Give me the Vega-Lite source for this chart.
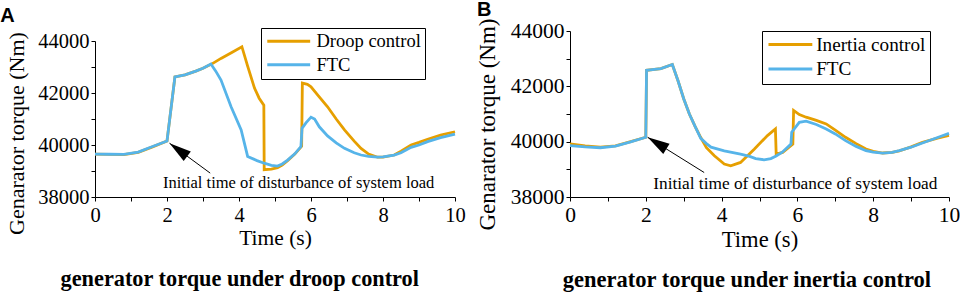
{
  "$schema": "https://vega.github.io/schema/vega-lite/v6.json",
  "padding": 0,
  "background": "white",
  "config": {
    "view": {"stroke": null},
    "font": "Liberation Serif",
    "axis": {"domainColor": "black", "tickColor": "black", "labelColor": "black", "titleColor": "black", "grid": false, "labelFont": "Liberation Serif", "titleFont": "Liberation Serif", "titleFontWeight": "normal", "tickSize": 4, "labelOverlap": false, "labelFlush": false},
    "legend": {"labelColor": "black", "labelFont": "Liberation Serif"}
  },
  "datasets": {
    "a": [
      {"s": "Droop control", "t": 0, "v": 39650}, {"s": "Droop control", "t": 0.4, "v": 39640}, {"s": "Droop control", "t": 0.8, "v": 39630}, {"s": "Droop control", "t": 1.2, "v": 39720}, {"s": "Droop control", "t": 1.6, "v": 39930}, {"s": "Droop control", "t": 2.0, "v": 40150}, {"s": "Droop control", "t": 2.22, "v": 42620}, {"s": "Droop control", "t": 2.5, "v": 42700}, {"s": "Droop control", "t": 2.8, "v": 42840}, {"s": "Droop control", "t": 3.0, "v": 42950}, {"s": "Droop control", "t": 3.25, "v": 43120}, {"s": "Droop control", "t": 3.5, "v": 43330}, {"s": "Droop control", "t": 3.8, "v": 43560}, {"s": "Droop control", "t": 4.08, "v": 43780}, {"s": "Droop control", "t": 4.24, "v": 43030}, {"s": "Droop control", "t": 4.43, "v": 42190}, {"s": "Droop control", "t": 4.56, "v": 41800}, {"s": "Droop control", "t": 4.69, "v": 41530}, {"s": "Droop control", "t": 4.7, "v": 39050}, {"s": "Droop control", "t": 4.9, "v": 39070}, {"s": "Droop control", "t": 5.07, "v": 39130}, {"s": "Droop control", "t": 5.2, "v": 39230}, {"s": "Droop control", "t": 5.35, "v": 39400}, {"s": "Droop control", "t": 5.55, "v": 39650}, {"s": "Droop control", "t": 5.74, "v": 39950}, {"s": "Droop control", "t": 5.76, "v": 42380}, {"s": "Droop control", "t": 5.9, "v": 42330}, {"s": "Droop control", "t": 6.0, "v": 42240}, {"s": "Droop control", "t": 6.2, "v": 41900}, {"s": "Droop control", "t": 6.46, "v": 41470}, {"s": "Droop control", "t": 6.7, "v": 41000}, {"s": "Droop control", "t": 6.93, "v": 40580}, {"s": "Droop control", "t": 7.2, "v": 40150}, {"s": "Droop control", "t": 7.39, "v": 39870}, {"s": "Droop control", "t": 7.6, "v": 39650}, {"s": "Droop control", "t": 7.85, "v": 39530}, {"s": "Droop control", "t": 8.0, "v": 39530}, {"s": "Droop control", "t": 8.31, "v": 39615}, {"s": "Droop control", "t": 8.5, "v": 39760}, {"s": "Droop control", "t": 8.78, "v": 40000}, {"s": "Droop control", "t": 9.0, "v": 40100}, {"s": "Droop control", "t": 9.24, "v": 40220}, {"s": "Droop control", "t": 9.6, "v": 40380}, {"s": "Droop control", "t": 10, "v": 40510},
      {"s": "FTC", "t": 0, "v": 39650}, {"s": "FTC", "t": 0.4, "v": 39645}, {"s": "FTC", "t": 0.8, "v": 39640}, {"s": "FTC", "t": 1.2, "v": 39730}, {"s": "FTC", "t": 1.6, "v": 39940}, {"s": "FTC", "t": 2.0, "v": 40150}, {"s": "FTC", "t": 2.22, "v": 42620}, {"s": "FTC", "t": 2.5, "v": 42700}, {"s": "FTC", "t": 2.8, "v": 42840}, {"s": "FTC", "t": 3.0, "v": 42950}, {"s": "FTC", "t": 3.22, "v": 43115}, {"s": "FTC", "t": 3.35, "v": 42850}, {"s": "FTC", "t": 3.5, "v": 42500}, {"s": "FTC", "t": 3.78, "v": 41470}, {"s": "FTC", "t": 4.06, "v": 40580}, {"s": "FTC", "t": 4.24, "v": 39560}, {"s": "FTC", "t": 4.5, "v": 39400}, {"s": "FTC", "t": 4.7, "v": 39300}, {"s": "FTC", "t": 4.9, "v": 39220}, {"s": "FTC", "t": 5.07, "v": 39190}, {"s": "FTC", "t": 5.2, "v": 39270}, {"s": "FTC", "t": 5.35, "v": 39420}, {"s": "FTC", "t": 5.55, "v": 39660}, {"s": "FTC", "t": 5.72, "v": 39940}, {"s": "FTC", "t": 5.75, "v": 40640}, {"s": "FTC", "t": 5.86, "v": 40850}, {"s": "FTC", "t": 6.0, "v": 41070}, {"s": "FTC", "t": 6.1, "v": 41000}, {"s": "FTC", "t": 6.23, "v": 40700}, {"s": "FTC", "t": 6.46, "v": 40350}, {"s": "FTC", "t": 6.7, "v": 40080}, {"s": "FTC", "t": 6.93, "v": 39870}, {"s": "FTC", "t": 7.2, "v": 39700}, {"s": "FTC", "t": 7.39, "v": 39615}, {"s": "FTC", "t": 7.6, "v": 39560}, {"s": "FTC", "t": 7.85, "v": 39530}, {"s": "FTC", "t": 8.0, "v": 39540}, {"s": "FTC", "t": 8.31, "v": 39610}, {"s": "FTC", "t": 8.5, "v": 39700}, {"s": "FTC", "t": 8.78, "v": 39910}, {"s": "FTC", "t": 9.0, "v": 40000}, {"s": "FTC", "t": 9.24, "v": 40130}, {"s": "FTC", "t": 9.6, "v": 40280}, {"s": "FTC", "t": 10, "v": 40420}
    ],
    "b": [
      {"s": "Inertia control", "t": 0, "v": 39920}, {"s": "Inertia control", "t": 0.4, "v": 39850}, {"s": "Inertia control", "t": 0.8, "v": 39800}, {"s": "Inertia control", "t": 1.2, "v": 39850}, {"s": "Inertia control", "t": 1.6, "v": 40000}, {"s": "Inertia control", "t": 2.0, "v": 40160}, {"s": "Inertia control", "t": 2.02, "v": 42580}, {"s": "Inertia control", "t": 2.4, "v": 42640}, {"s": "Inertia control", "t": 2.7, "v": 42790}, {"s": "Inertia control", "t": 2.85, "v": 42200}, {"s": "Inertia control", "t": 3.0, "v": 41550}, {"s": "Inertia control", "t": 3.15, "v": 41000}, {"s": "Inertia control", "t": 3.3, "v": 40550}, {"s": "Inertia control", "t": 3.45, "v": 40150}, {"s": "Inertia control", "t": 3.6, "v": 39780}, {"s": "Inertia control", "t": 3.81, "v": 39490}, {"s": "Inertia control", "t": 4.07, "v": 39190}, {"s": "Inertia control", "t": 4.24, "v": 39130}, {"s": "Inertia control", "t": 4.5, "v": 39250}, {"s": "Inertia control", "t": 4.86, "v": 39730}, {"s": "Inertia control", "t": 5.21, "v": 40220}, {"s": "Inertia control", "t": 5.42, "v": 40460}, {"s": "Inertia control", "t": 5.44, "v": 39550}, {"s": "Inertia control", "t": 5.61, "v": 39610}, {"s": "Inertia control", "t": 5.88, "v": 39915}, {"s": "Inertia control", "t": 5.9, "v": 41130}, {"s": "Inertia control", "t": 6.05, "v": 40980}, {"s": "Inertia control", "t": 6.23, "v": 40885}, {"s": "Inertia control", "t": 6.5, "v": 40770}, {"s": "Inertia control", "t": 6.76, "v": 40640}, {"s": "Inertia control", "t": 7.0, "v": 40420}, {"s": "Inertia control", "t": 7.27, "v": 40157}, {"s": "Inertia control", "t": 7.55, "v": 39930}, {"s": "Inertia control", "t": 7.81, "v": 39733}, {"s": "Inertia control", "t": 8.0, "v": 39650}, {"s": "Inertia control", "t": 8.25, "v": 39590}, {"s": "Inertia control", "t": 8.5, "v": 39610}, {"s": "Inertia control", "t": 8.69, "v": 39670}, {"s": "Inertia control", "t": 9.0, "v": 39810}, {"s": "Inertia control", "t": 9.3, "v": 39976}, {"s": "Inertia control", "t": 9.7, "v": 40130}, {"s": "Inertia control", "t": 10, "v": 40230},
      {"s": "FTC", "t": 0, "v": 39860}, {"s": "FTC", "t": 0.4, "v": 39810}, {"s": "FTC", "t": 0.8, "v": 39780}, {"s": "FTC", "t": 1.2, "v": 39840}, {"s": "FTC", "t": 1.6, "v": 39990}, {"s": "FTC", "t": 2.0, "v": 40160}, {"s": "FTC", "t": 2.02, "v": 42580}, {"s": "FTC", "t": 2.4, "v": 42640}, {"s": "FTC", "t": 2.7, "v": 42790}, {"s": "FTC", "t": 2.85, "v": 42200}, {"s": "FTC", "t": 3.0, "v": 41550}, {"s": "FTC", "t": 3.15, "v": 41000}, {"s": "FTC", "t": 3.3, "v": 40550}, {"s": "FTC", "t": 3.45, "v": 40120}, {"s": "FTC", "t": 3.6, "v": 39930}, {"s": "FTC", "t": 3.72, "v": 39800}, {"s": "FTC", "t": 4.07, "v": 39670}, {"s": "FTC", "t": 4.5, "v": 39550}, {"s": "FTC", "t": 4.74, "v": 39470}, {"s": "FTC", "t": 4.9, "v": 39390}, {"s": "FTC", "t": 5.12, "v": 39345}, {"s": "FTC", "t": 5.3, "v": 39390}, {"s": "FTC", "t": 5.44, "v": 39480}, {"s": "FTC", "t": 5.6, "v": 39620}, {"s": "FTC", "t": 5.83, "v": 39915}, {"s": "FTC", "t": 5.85, "v": 40340}, {"s": "FTC", "t": 6.05, "v": 40700}, {"s": "FTC", "t": 6.23, "v": 40740}, {"s": "FTC", "t": 6.5, "v": 40620}, {"s": "FTC", "t": 6.76, "v": 40460}, {"s": "FTC", "t": 7.0, "v": 40280}, {"s": "FTC", "t": 7.27, "v": 40036}, {"s": "FTC", "t": 7.55, "v": 39830}, {"s": "FTC", "t": 7.81, "v": 39673}, {"s": "FTC", "t": 8.0, "v": 39620}, {"s": "FTC", "t": 8.25, "v": 39588}, {"s": "FTC", "t": 8.5, "v": 39610}, {"s": "FTC", "t": 8.69, "v": 39673}, {"s": "FTC", "t": 9.0, "v": 39800}, {"s": "FTC", "t": 9.3, "v": 39951}, {"s": "FTC", "t": 9.7, "v": 40150}, {"s": "FTC", "t": 10, "v": 40300}
    ],
    "arrowA": [{"t": 2.07, "v": 40069, "t2": 3.2, "v2": 38919}],
    "arrowB": [{"t": 2.05, "v": 40157, "t2": 3.54, "v2": 38885}],
    "noteA": [{"t": 1.89, "v": 38358, "label": "Initial time of disturbance of system load"}],
    "noteB": [{"t": 2.197, "v": 38279, "label": "Initial time of disturbance of system load"}]
  },
  "resolve": {"scale": {"color": "independent"}, "legend": {"color": "independent"}},
  "spacing": 10,
  "hconcat": [
    {
      "title": {"text": "generator torque under droop control", "orient": "bottom", "anchor": "middle", "font": "Liberation Serif", "fontSize": 22.3, "fontWeight": "bold", "color": "black", "offset": 19, "dx": 7},
      "vconcat": [
        {
          "title": {"text": "A", "anchor": "start", "frame": "bounds", "font": "Liberation Sans", "fontSize": 20, "fontWeight": "bold", "color": "black", "dx": -5, "offset": 5.5},
          "width": 360,
          "height": 166,
          "encoding": {
            "x": {"field": "t", "type": "quantitative", "scale": {"domain": [0, 10], "nice": false}, "axis": {"title": "Time (s)", "values": [0, 1, 2, 3, 4, 5, 6, 7, 8, 9, 10], "labelExpr": "datum.value % 2 === 0 ? datum.label : ''", "labelFont": "Liberation Serif", "titleFont": "Liberation Serif", "labelFontSize": 20.5, "titleFontSize": 21.5, "labelPadding": 4, "titlePadding": 2}},
            "y": {"field": "v", "type": "quantitative", "scale": {"domain": [38000, 44000], "range": [166, 10], "nice": false, "zero": false}, "axis": {"title": "Genarator torque (Nm)", "values": [38000, 39000, 40000, 41000, 42000, 43000, 44000], "format": "d", "labelExpr": "datum.value % 2000 === 0 ? datum.label : ''", "labelFont": "Liberation Serif", "titleFont": "Liberation Serif", "labelFontSize": 20.5, "titleFontSize": 22, "labelPadding": 2, "titlePadding": 9.5, "titleY": 102}}
          },
          "layer": [
            {"data": {"name": "a"}, "transform": [{"filter": "datum.s === 'Droop control'"}], "mark": {"type": "line", "strokeWidth": 2.8},
             "encoding": {"color": {"field": "s", "type": "nominal", "scale": {"domain": ["Droop control", "FTC"], "range": ["#E69F00", "#56B4E9"]}, "legend": {"orient": "none", "legendX": 166, "legendY": -3, "title": null, "symbolType": "M-1.3,0L6.7,0", "symbolSize": 115, "symbolStrokeWidth": 3, "labelFontSize": 18.5, "strokeColor": "black", "fillColor": "white", "padding": 4, "rowPadding": 4.5, "labelOffset": 33}}}},
            {"data": {"name": "a"}, "transform": [{"filter": "datum.s === 'FTC'"}], "mark": {"type": "line", "strokeWidth": 2.8},
             "encoding": {"color": {"field": "s", "type": "nominal"}}},
            {"data": {"name": "arrowA"}, "mark": {"type": "rule", "color": "black", "strokeWidth": 1}, "encoding": {"x2": {"field": "t2"}, "y2": {"field": "v2"}}},
            {"data": {"name": "arrowA"}, "mark": {"type": "point", "shape": "M0,0L1.2,4.4L-1.2,4.4Z", "filled": true, "color": "black", "opacity": 1, "size": 100, "angle": -53.6}, "encoding": {}},
            {"data": {"name": "noteA"}, "mark": {"type": "text", "align": "left", "baseline": "alphabetic", "font": "Liberation Serif", "fontSize": 16.5, "color": "black"}, "encoding": {"text": {"field": "label"}}}
          ]
        }
      ]
    },
    {
      "title": {"text": "generator torque under inertia control", "orient": "bottom", "anchor": "middle", "font": "Liberation Serif", "fontSize": 22.5, "fontWeight": "bold", "color": "black", "offset": 18, "dx": 29},
      "vconcat": [
        {
          "title": {"text": "B", "anchor": "start", "frame": "bounds", "font": "Liberation Sans", "fontSize": 20, "fontWeight": "bold", "color": "black", "dx": 1, "offset": -2.25},
          "width": 379,
          "height": 166,
          "encoding": {
            "x": {"field": "t", "type": "quantitative", "scale": {"domain": [0, 10], "nice": false}, "axis": {"title": "Time (s)", "values": [0, 1, 2, 3, 4, 5, 6, 7, 8, 9, 10], "labelExpr": "datum.value % 2 === 0 ? datum.label : ''", "labelFont": "Liberation Serif", "titleFont": "Liberation Serif", "labelFontSize": 21.5, "titleFontSize": 22.6, "labelPadding": 3, "titlePadding": 3}},
            "y": {"field": "v", "type": "quantitative", "scale": {"domain": [38000, 44000], "nice": false, "zero": false}, "axis": {"title": "Genarator torque (Nm)", "values": [38000, 39000, 40000, 41000, 42000, 43000, 44000], "format": "d", "labelExpr": "datum.value % 2000 === 0 ? datum.label : ''", "labelFont": "Liberation Serif", "titleFont": "Liberation Serif", "labelFontSize": 21.5, "titleFontSize": 23, "labelPadding": 2, "titlePadding": 11.25, "titleY": 93}}
          },
          "layer": [
            {"data": {"name": "b"}, "transform": [{"filter": "datum.s === 'Inertia control'"}], "mark": {"type": "line", "strokeWidth": 2.8},
             "encoding": {"color": {"field": "s", "type": "nominal", "scale": {"domain": ["Inertia control", "FTC"], "range": ["#E69F00", "#56B4E9"]}, "legend": {"orient": "none", "legendX": 192, "legendY": 0, "title": null, "symbolType": "M-1.3,0L6.7,0", "symbolSize": 120, "symbolStrokeWidth": 3, "labelFontSize": 19.2, "strokeColor": "black", "fillColor": "white", "padding": 4, "rowPadding": 4.5, "labelOffset": 31}}}},
            {"data": {"name": "b"}, "transform": [{"filter": "datum.s === 'FTC'"}], "mark": {"type": "line", "strokeWidth": 2.8},
             "encoding": {"color": {"field": "s", "type": "nominal"}}},
            {"data": {"name": "arrowB"}, "mark": {"type": "rule", "color": "black", "strokeWidth": 1}, "encoding": {"x2": {"field": "t2"}, "y2": {"field": "v2"}}},
            {"data": {"name": "arrowB"}, "mark": {"type": "point", "shape": "M0,0L1.2,4.4L-1.2,4.4Z", "filled": true, "color": "black", "opacity": 1, "size": 100, "angle": -58.3}, "encoding": {}},
            {"data": {"name": "noteB"}, "mark": {"type": "text", "align": "left", "baseline": "alphabetic", "font": "Liberation Serif", "fontSize": 17.3, "color": "black"}, "encoding": {"text": {"field": "label"}}}
          ]
        }
      ]
    }
  ]
}
